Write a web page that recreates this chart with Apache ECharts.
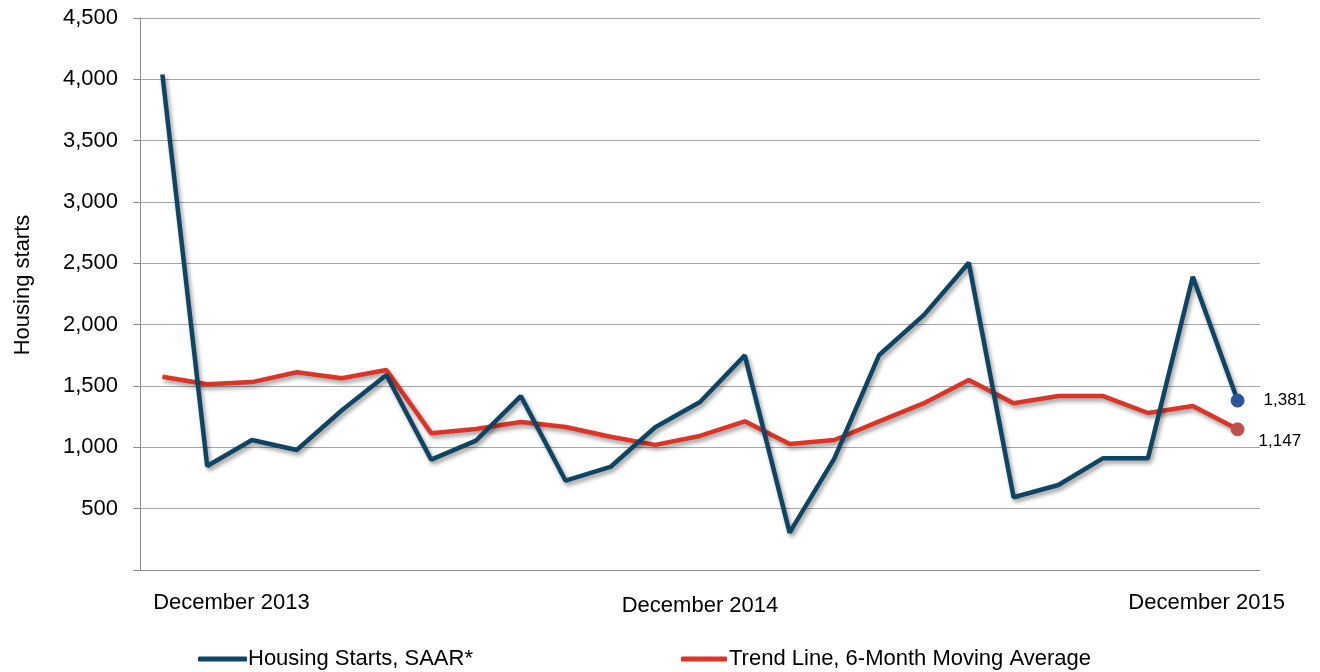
<!DOCTYPE html>
<html>
<head>
<meta charset="utf-8">
<script src="https://cdn.jsdelivr.net/npm/echarts@6/dist/echarts.min.js"></script>
<style>
  html, body { margin: 0; padding: 0; background: #fff; }
  #chart { width: 1320px; height: 672px; }
</style>
</head>
<body>
<div id="chart"></div>
<script>
var months = [
  'December 2013', 'January 2014', 'February 2014', 'March 2014', 'April 2014', 'May 2014',
  'June 2014', 'July 2014', 'August 2014', 'September 2014', 'October 2014', 'November 2014',
  'December 2014', 'January 2015', 'February 2015', 'March 2015', 'April 2015', 'May 2015',
  'June 2015', 'July 2015', 'August 2015', 'September 2015', 'October 2015', 'November 2015',
  'December 2015'
]
var starts = [4040, 848, 1060, 978, 1300, 1590, 900, 1055, 1418, 728, 840, 1164, 1370,
  1750, 305, 910, 1753, 2080, 2505, 593, 693, 912, 912, 2390, 1381]
var trend = [1575, 1515, 1532, 1612, 1563, 1630, 1115, 1150, 1206, 1166, 1086, 1020, 1093,
  1212, 1027, 1060, 1212, 1360, 1549, 1360, 1418, 1418, 1280, 1337, 1147]
var shownLabels = [0, 12, 24]

var blue = '#0f4463'
var red = '#dc3427'
var font = 'Liberation Sans, Arial, sans-serif'

function withEndDot(values, dotColor, labelDistance, labelOffset) {
  return values.map(function (v, i) {
    if (i < values.length - 1) return { value: v, symbol: 'none' }
    return {
      value: v,
      symbol: 'circle',
      symbolSize: 13,
      itemStyle: { color: dotColor, borderColor: dotColor, borderWidth: 1 },
      label: {
        show: true,
        position: 'right',
        distance: labelDistance,
        offset: labelOffset,
        color: '#000',
        fontSize: 17,
        fontFamily: font,
        formatter: function (p) { return p.value.toLocaleString('en-US') }
      }
    }
  })
}

var lineShadow = {
  shadowColor: 'rgba(0,0,0,0.4)',
  shadowBlur: 4,
  shadowOffsetX: 2,
  shadowOffsetY: 3
}

var chart = echarts.init(document.getElementById('chart'))
chart.setOption({
  animation: false,
  textStyle: { fontFamily: font, color: '#000' },
  grid: { left: 140, right: 60, top: 18, bottom: 102, containLabel: false, outerBoundsMode: 'none' },
  legend: [
    {
      data: ['Housing Starts, SAAR*'],
      left: 193,
      top: 643,
      icon: 'roundRect',
      itemWidth: 49,
      itemHeight: 5,
      textStyle: { fontSize: 22, color: '#000', fontFamily: font, padding: [0, 0, 0, -4] }
    },
    {
      data: ['Trend Line, 6-Month Moving Average'],
      left: 676,
      top: 643,
      icon: 'roundRect',
      itemWidth: 46,
      itemHeight: 5,
      textStyle: { fontSize: 22, color: '#000', fontFamily: font, padding: [0, 0, 0, -3] }
    }
  ],
  xAxis: {
    type: 'category',
    data: months,
    boundaryGap: true,
    axisLine: { lineStyle: { color: '#8c8c8c', width: 1 } },
    axisTick: { show: false },
    axisLabel: {
      interval: function (i) { return shownLabels.indexOf(i) >= 0 },
      margin: 22,
      fontSize: 22,
      color: '#000',
      formatter: function (v, i) {
        if (i === 0) return '{first|' + v + '}'
        if (i === 12) return '{mid|' + v + '}'
        return '{last|' + v + '}'
      },
      rich: {
        first: { fontSize: 22, fontFamily: font, color: '#000', padding: [0, 0, 0, 138] },
        mid: { fontSize: 22, fontFamily: font, color: '#000', padding: [3, 0, 0, 0] },
        last: { fontSize: 22, fontFamily: font, color: '#000', padding: [0, 62, 0, 0] }
      }
    }
  },
  yAxis: {
    type: 'value',
    min: 0,
    max: 4500,
    interval: 500,
    name: 'Housing starts',
    nameLocation: 'middle',
    nameRotate: 90,
    nameGap: 106,
    nameTextStyle: { fontSize: 22, color: '#000', fontFamily: font, padding: [0, 0, 0, 18] },
    axisLine: { show: true, lineStyle: { color: '#8c8c8c', width: 1 } },
    axisTick: { show: true, length: 7, lineStyle: { color: '#8c8c8c' } },
    splitLine: { lineStyle: { color: '#a6a6a6', width: 1 } },
    axisLabel: {
      margin: 22,
      fontSize: 22,
      color: '#000',
      formatter: function (v) { return v === 0 ? '' : v.toLocaleString('en-US') }
    }
  },
  series: [
    {
      name: 'Housing Starts, SAAR*',
      type: 'line',
      color: blue,
      symbol: 'circle',
      lineStyle: Object.assign({ width: 4.5, color: blue }, lineShadow),
      data: withEndDot(starts, '#2b5597', 19, [0, 0]),
      z: 3
    },
    {
      name: 'Trend Line, 6-Month Moving Average',
      type: 'line',
      color: red,
      symbol: 'circle',
      lineStyle: Object.assign({ width: 4.5, color: red }, lineShadow),
      data: withEndDot(trend, '#c0504d', 14, [0, 12]),
      z: 2
    }
  ]
})
</script>
</body>
</html>
